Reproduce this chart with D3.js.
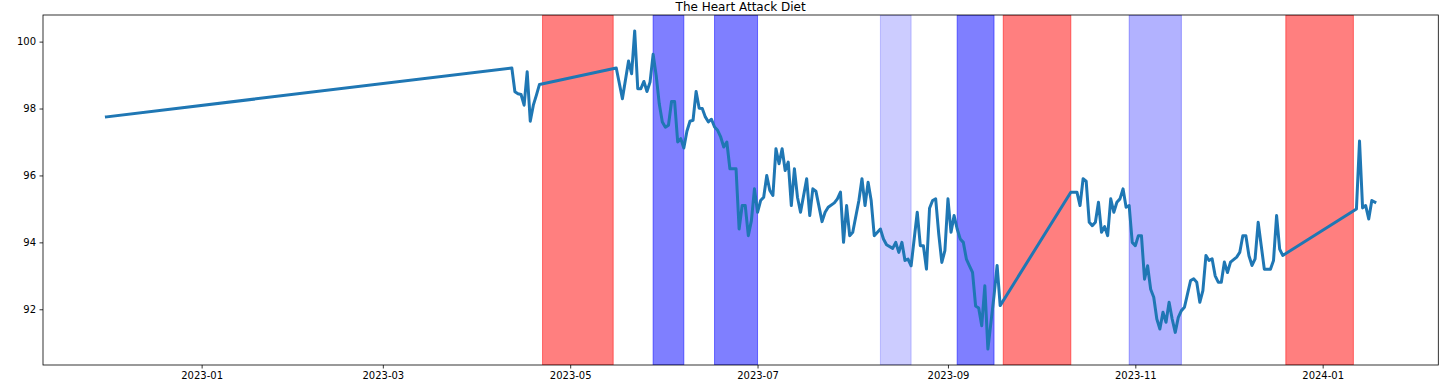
<!DOCTYPE html>
<html>
<head>
<meta charset="utf-8">
<script src="https://cdn.jsdelivr.net/npm/d3@7"></script>
<style>
  html, body { margin: 0; padding: 0; background: #fff; }
  svg { display: block; }
  text { font-family: "DejaVu Sans", sans-serif; }
</style>
</head>
<body>
<svg id="chart" width="1456" height="380"></svg>
<script>
// ---- data ----
const title = "The Heart Attack Diet";

const dates = [
  "2022-12-01",
  "2023-04-12","2023-04-13","2023-04-14","2023-04-15","2023-04-16","2023-04-17","2023-04-18","2023-04-19","2023-04-20","2023-04-21",
  "2023-05-16","2023-05-18","2023-05-20","2023-05-21","2023-05-22","2023-05-23","2023-05-24","2023-05-25","2023-05-26","2023-05-27",
  "2023-05-28","2023-05-29","2023-05-30","2023-05-31",
  "2023-06-01","2023-06-02","2023-06-03","2023-06-04","2023-06-05","2023-06-06","2023-06-07","2023-06-08","2023-06-09","2023-06-10",
  "2023-06-11","2023-06-12","2023-06-13","2023-06-14","2023-06-15","2023-06-16","2023-06-17","2023-06-18","2023-06-19","2023-06-20",
  "2023-06-21","2023-06-22","2023-06-23","2023-06-24","2023-06-25","2023-06-26","2023-06-27","2023-06-28","2023-06-29","2023-06-30",
  "2023-07-01","2023-07-02","2023-07-03","2023-07-04","2023-07-05","2023-07-06","2023-07-07","2023-07-08","2023-07-09","2023-07-10",
  "2023-07-11","2023-07-12","2023-07-13","2023-07-14","2023-07-15","2023-07-17","2023-07-18","2023-07-19","2023-07-20",
  "2023-07-22","2023-07-23","2023-07-24","2023-07-26","2023-07-27","2023-07-28","2023-07-29","2023-07-30","2023-07-31",
  "2023-08-01","2023-08-03","2023-08-04","2023-08-05","2023-08-06","2023-08-07","2023-08-08","2023-08-10","2023-08-11","2023-08-12",
  "2023-08-14","2023-08-15","2023-08-16","2023-08-17","2023-08-18","2023-08-19","2023-08-20","2023-08-21","2023-08-22","2023-08-23",
  "2023-08-24","2023-08-25","2023-08-26","2023-08-27","2023-08-28","2023-08-29","2023-08-30","2023-08-31",
  "2023-09-01","2023-09-02","2023-09-03","2023-09-04","2023-09-05","2023-09-06","2023-09-07","2023-09-08","2023-09-09","2023-09-10",
  "2023-09-11","2023-09-12","2023-09-13","2023-09-14","2023-09-15","2023-09-16","2023-09-17","2023-09-18",
  "2023-10-11","2023-10-13","2023-10-14","2023-10-15","2023-10-16","2023-10-17","2023-10-18","2023-10-19","2023-10-20",
  "2023-10-21","2023-10-22","2023-10-23","2023-10-24","2023-10-25","2023-10-26","2023-10-27","2023-10-28","2023-10-29","2023-10-30","2023-10-31",
  "2023-11-01","2023-11-02","2023-11-03","2023-11-04","2023-11-05","2023-11-06","2023-11-07","2023-11-08","2023-11-09","2023-11-10",
  "2023-11-11","2023-11-12","2023-11-13","2023-11-14","2023-11-15","2023-11-16","2023-11-17","2023-11-18","2023-11-19","2023-11-20",
  "2023-11-21","2023-11-22","2023-11-23","2023-11-24","2023-11-25","2023-11-26","2023-11-27","2023-11-28","2023-11-29","2023-11-30",
  "2023-12-01","2023-12-02","2023-12-04","2023-12-05","2023-12-06","2023-12-07","2023-12-08","2023-12-09","2023-12-10",
  "2023-12-11","2023-12-12","2023-12-13","2023-12-14","2023-12-15","2023-12-16","2023-12-17","2023-12-18","2023-12-19",
  "2024-01-12","2024-01-13","2024-01-14","2024-01-15","2024-01-16","2024-01-17","2024-01-18"
];

const weights = [
  97.75,
  99.21, 98.50, 98.44, 98.42, 98.10, 99.10, 97.62, 98.10, 98.40, 98.72,
  99.21, 98.29, 99.42, 99.04, 100.32, 98.59, 98.59, 98.81, 98.51, 98.79,
  99.62, 98.99, 98.14, 97.60,
  97.44, 97.50, 98.21, 98.21, 97.00, 97.10, 96.82, 97.32, 97.62, 97.65,
  98.51, 98.01, 98.00, 97.75, 97.60, 97.68, 97.45, 97.35, 97.15, 96.85,
  97.00, 96.20, 96.20, 96.20, 94.40, 95.10, 95.10, 94.20, 94.65, 95.60,
  94.90, 95.25, 95.35, 96.00, 95.55, 95.40, 96.80, 96.35, 96.80, 96.15,
  96.40, 95.10, 96.20, 95.35, 94.90, 95.90, 94.80, 95.60, 95.53,
  94.62, 94.90, 95.05, 95.18, 95.30, 95.50, 94.00, 95.10, 94.20,
  94.30, 95.25, 95.90, 95.10, 95.80, 95.25, 94.20, 94.40, 94.10, 93.93,
  93.82, 94.00, 93.70, 94.00, 93.46, 93.50, 93.30, 94.10, 94.90, 93.90,
  93.90, 93.20, 95.02, 95.25, 95.30, 94.25, 93.40, 93.75,
  95.30, 94.30, 94.80, 94.40, 94.10, 94.00, 93.50, 93.30, 93.10, 92.10,
  92.04, 91.51, 92.70, 90.81, 91.61, 92.41, 93.31, 92.11,
  95.50, 95.50, 95.10, 95.90, 95.83, 94.60, 94.50, 94.60, 95.20,
  94.30, 94.47, 94.20, 95.30, 94.90, 95.20, 95.30, 95.60, 95.05, 95.10, 94.00,
  93.90, 94.20, 94.20, 92.90, 93.30, 92.60, 92.36, 91.71, 91.41, 91.91,
  91.61, 92.21, 91.71, 91.31, 91.76, 91.96, 92.06, 92.46, 92.86, 92.91,
  92.81, 92.21, 92.56, 93.61, 93.46, 93.51, 93.00, 92.81, 92.81, 93.41,
  93.10, 93.41, 93.56, 93.70, 94.20, 94.20, 93.60, 93.31, 93.51,
  94.60, 93.90, 93.20, 93.20, 93.20, 93.46, 94.80, 93.80, 93.61,
  95.00, 97.03, 95.03, 95.10, 94.70, 95.25, 95.20
];

// shaded periods
const spanStarts = ["2023-04-22","2023-05-28","2023-06-17","2023-08-10","2023-09-04","2023-09-19","2023-10-30","2023-12-20"];
const spanEnds   = ["2023-05-15","2023-06-07","2023-07-01","2023-08-20","2023-09-16","2023-10-11","2023-11-16","2024-01-11"];
const spanKinds  = ["red","blue","blue","blue-faint","blue","red","blue-light","red"];

const xTickLabels = ["2023-01","2023-03","2023-05","2023-07","2023-09","2023-11","2024-01"];
const yTickValues = [92, 94, 96, 98, 100];

// ---- styles ----
const spanStyle = {
  "red":        { color: "red",  alpha: 0.5 },
  "blue":       { color: "blue", alpha: 0.5 },
  "blue-light": { color: "blue", alpha: 0.3 },
  "blue-faint": { color: "blue", alpha: 0.2 }
};

const W = 1456, H = 380;
const margin = { left: 43, right: W - 1438.3, top: 15, bottom: H - 365 };

const parse = d3.utcParse("%Y-%m-%d");
const parseMonth = d3.utcParse("%Y-%m");
const data = dates.map((d, i) => ({ date: parse(d), value: weights[i] }));

// matplotlib-like 5% auto margins
const xExt = d3.extent(data, d => d.date);
const xPad = (xExt[1] - xExt[0]) * 0.05;
const yExt = d3.extent(data, d => d.value);
const yPad = (yExt[1] - yExt[0]) * 0.05;

const x = d3.scaleUtc()
  .domain([new Date(+xExt[0] - xPad), new Date(+xExt[1] + xPad)])
  .range([margin.left, W - margin.right]);
const y = d3.scaleLinear()
  .domain([yExt[0] - yPad, yExt[1] + yPad])
  .range([H - margin.bottom, margin.top]);

const svg = d3.select("#chart");

const clipId = "plotclip";
svg.append("defs").append("clipPath").attr("id", clipId)
  .append("rect")
  .attr("x", margin.left).attr("y", margin.top)
  .attr("width", W - margin.left - margin.right)
  .attr("height", H - margin.top - margin.bottom);

const plot = svg.append("g").attr("clip-path", `url(#${clipId})`);

// spans
plot.selectAll("rect.span")
  .data(spanStarts.map((s, i) => ({ s: parse(s), e: parse(spanEnds[i]), k: spanKinds[i] })))
  .join("rect")
  .attr("class", "span")
  .attr("x", d => x(d.s))
  .attr("width", d => x(d.e) - x(d.s))
  .attr("y", margin.top)
  .attr("height", H - margin.top - margin.bottom)
  .attr("fill", d => spanStyle[d.k].color)
  .attr("fill-opacity", d => spanStyle[d.k].alpha)
  .attr("stroke", d => spanStyle[d.k].color)
  .attr("stroke-opacity", d => spanStyle[d.k].alpha)
  .attr("stroke-width", 1);

// line
const line = d3.line().x(d => x(d.date)).y(d => y(d.value));
plot.append("path")
  .datum(data)
  .attr("d", line)
  .attr("fill", "none")
  .attr("stroke", "#1f77b4")
  .attr("stroke-width", 3)
  .attr("stroke-linejoin", "round")
  .attr("stroke-linecap", "square");

// axes
const xAxis = d3.axisBottom(x)
  .tickValues(xTickLabels.map(parseMonth))
  .tickFormat(d3.utcFormat("%Y-%m"))
  .tickSize(3.5).tickPadding(3.5).tickSizeOuter(0);
const gx = svg.append("g")
  .attr("transform", `translate(0,${H - margin.bottom})`)
  .call(xAxis);
gx.select(".domain").remove();
gx.selectAll(".tick line").attr("stroke", "#000").attr("stroke-width", 0.8);
gx.selectAll(".tick text").attr("font-size", 10).attr("fill", "#000")
  .attr("font-family", "DejaVu Sans, sans-serif");

const yAxis = d3.axisLeft(y)
  .tickValues(yTickValues)
  .tickFormat(d3.format("d"))
  .tickSize(3.5).tickPadding(3.5).tickSizeOuter(0);
const gy = svg.append("g")
  .attr("transform", `translate(${margin.left},0)`)
  .call(yAxis);
gy.select(".domain").remove();
gy.selectAll(".tick line").attr("stroke", "#000").attr("stroke-width", 0.8);
gy.selectAll(".tick text").attr("font-size", 10).attr("fill", "#000")
  .attr("font-family", "DejaVu Sans, sans-serif");

// frame
svg.append("rect")
  .attr("x", margin.left).attr("y", margin.top)
  .attr("width", W - margin.left - margin.right)
  .attr("height", H - margin.top - margin.bottom)
  .attr("fill", "none")
  .attr("stroke", "#000")
  .attr("stroke-width", 0.8);

// title
svg.append("text")
  .attr("x", (margin.left + W - margin.right) / 2)
  .attr("y", margin.top - 4.5)
  .attr("text-anchor", "middle")
  .attr("font-size", 12)
  .attr("fill", "#000")
  .text(title);
</script>
</body>
</html>
